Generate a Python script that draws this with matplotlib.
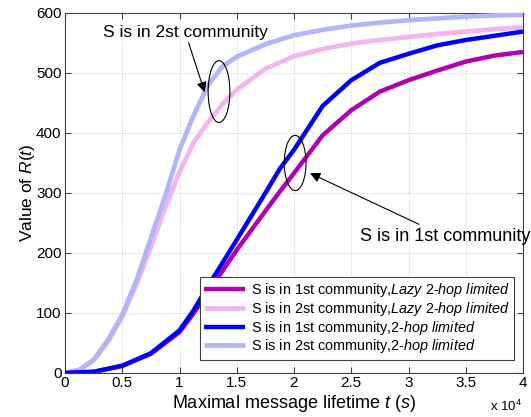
import numpy as np
import matplotlib
matplotlib.use("Agg")
import matplotlib.pyplot as plt
from matplotlib.patches import Ellipse
from matplotlib.ticker import FuncFormatter

plt.rcParams['font.family'] = ['Liberation Sans', 'DejaVu Sans']
plt.rcParams['mathtext.fontset'] = 'custom'
plt.rcParams['mathtext.rm'] = 'Liberation Sans'
plt.rcParams['mathtext.it'] = 'Liberation Sans:italic'

# time axis in units of 1e4 s
t_2nd = [0, 0.125, 0.25, 0.375, 0.5, 0.625, 0.75, 0.875, 1.0, 1.125, 1.25, 1.375, 1.5,
         1.75, 2.0, 2.25, 2.5, 2.75, 3.0, 3.25, 3.5, 3.75, 4.0]
r_2nd_2hop = [0, 5, 22, 55, 97, 155, 225, 295, 372, 430, 480, 511, 527,
              548, 563, 572, 579, 584, 588, 591, 594, 596, 597]
r_2nd_lazy = [0, 5, 21, 52, 94, 148, 210, 275, 335, 385, 418, 448, 472,
              507, 528, 540, 549, 555, 560, 565, 569, 573, 576]

t_1st = [0, 0.25, 0.5, 0.75, 1.0, 1.125, 1.25, 1.5, 1.75, 1.875, 2.0, 2.25, 2.5, 2.75,
         3.0, 3.25, 3.5, 3.75, 4.0]
r_1st_2hop = [0, 2, 12, 33, 71, 105, 145, 222, 300, 340, 372, 445, 488, 517,
              532, 546, 555, 562, 569]
r_1st_lazy = [0, 2, 12, 32, 68, 100, 135, 205, 270, 302, 333, 396, 438, 469,
              488, 504, 519, 529, 535]

labels = [
    'S is in 1st community,$\\mathit{Lazy\\ 2\u2010hop\\ limited}$',
    'S is in 2st community,$\\mathit{Lazy\\ 2\u2010hop\\ limited}$',
    'S is in 1st community,$\\mathit{2\u2010hop\\ limited}$',
    'S is in 2st community,$\\mathit{2\u2010hop\\ limited}$',
]

fig = plt.figure(figsize=(5.31, 4.17), dpi=100)
ax = fig.add_axes([65/531, 1 - 373/417, 458/531, 360/417])

style = dict(solid_joinstyle='round', solid_capstyle='butt')
ax.plot(t_1st, r_1st_lazy, color='#b000b0', lw=3.2, label=labels[0], zorder=4, **style)
ax.plot(t_2nd, r_2nd_lazy, color='#f4b4f0', lw=3.4, label=labels[1], zorder=3, **style)
ax.plot(t_1st, r_1st_2hop, color='#0000ff', lw=3.2, label=labels[2], zorder=4, **style)
ax.plot(t_2nd, r_2nd_2hop, color='#b4b4fc', lw=3.4, label=labels[3], zorder=3, **style)

ax.set_xlim(0, 4)
ax.set_ylim(0, 600)
ax.set_xticks(np.arange(0, 4.01, 0.5))
ax.set_yticks(np.arange(0, 601, 100))
ax.xaxis.set_major_formatter(FuncFormatter(lambda v, p: '%g' % v))
ax.tick_params(direction='in', top=True, right=True, labelsize=11, length=4,
               color='#404040', pad=2.5)
ax.grid(True, linestyle=':', color='#c8c8c8', lw=0.7)
for s in ax.spines.values():
    s.set_color('#404040')
    s.set_linewidth(0.8)

ax.set_xlabel('Maximal message lifetime $\\mathit{t\\ (s)}$', fontsize=13, labelpad=2)
ax.set_ylabel('Value of $\\mathit{R(t)}$', fontsize=12.5, labelpad=-1)
ax.text(0.998, -0.072, 'x 10$^{4}$', transform=ax.transAxes, ha='right', va='top',
        fontsize=9.5)

# annotations
ax.add_patch(Ellipse((1.345, 469), 0.19, 103, fill=False, ec='black', lw=0.8, zorder=6))
ax.add_patch(Ellipse((2.01, 350), 0.19, 92, fill=False, ec='black', lw=0.8, zorder=6))
ax.annotate('S is in 2st community', xy=(1.22, 468), xytext=(1.05, 555),
            fontsize=12.5, ha='center', va='bottom',
            arrowprops=dict(arrowstyle='-|>', color='black', lw=0.8, mutation_scale=15,
                            shrinkA=0, shrinkB=0))
ax.annotate('S is in 1st community', xy=(2.14, 333), xytext=(2.58, 227),
            fontsize=13, ha='left', va='center',
            arrowprops=dict(arrowstyle='-|>', color='black', lw=0.8, mutation_scale=15,
                            shrinkA=2, shrinkB=0))

leg = ax.legend(loc='lower right', bbox_to_anchor=(0.9956, 0.0167), fontsize=10.4,
                handlelength=2.8, handletextpad=0.4, labelspacing=0.05,
                borderpad=0.3, fancybox=False, framealpha=1, edgecolor='#404040')
leg.get_frame().set_linewidth(0.8)
leg.set_zorder(10)

fig.savefig('out.png', dpi=100)
